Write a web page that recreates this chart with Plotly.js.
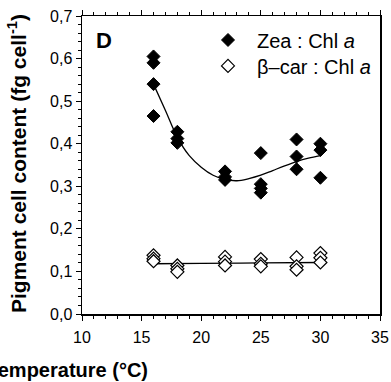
<!DOCTYPE html>
<html>
<head>
<meta charset="utf-8">
<script src="https://cdn.plot.ly/plotly-3.0.1.min.js"></script>
<style>html,body{margin:0;padding:0;background:#fff;}#chart{width:391px;height:382px;}</style>
</head>
<body>
<div id="chart"></div>
<script>
// Zea : Chl a measurements
var zeaX = [16,16,16,16,18,18,18,22,22,22,25,25,25,25,28,28,28,30,30,30];
var zeaY = [0.605,0.59,0.54,0.465,0.428,0.412,0.402,0.335,0.322,0.315,0.378,0.305,0.295,0.285,0.41,0.37,0.34,0.40,0.385,0.32];
// beta-car : Chl a measurements
var carX = [16,16,16,18,18,18,22,22,22,25,25,25,28,28,28,30,30,30];
var carY = [0.138,0.130,0.124,0.114,0.106,0.099,0.134,0.123,0.114,0.129,0.118,0.112,0.133,0.112,0.104,0.143,0.132,0.121];
// fitted curves
var zeaFitX = [16,17,18,19,20,21,22,23,24,25,26,27,28,29,30];
var zeaFitY = [0.54,0.478,0.415,0.372,0.345,0.326,0.316,0.313,0.318,0.326,0.337,0.348,0.358,0.366,0.372];
var carFitX = [16,20,25,30];
var carFitY = [0.118,0.119,0.120,0.121];
// labels
var seriesNames = ['Zea : Chl <i>a</i>', '\u03B2\u2013car : Chl <i>a</i>'];
var xTitle = 'Temperature (\u00B0C)';
var yTitle = 'Pigment cell content (fg cell<sup>-1</sup>)';
var panelLabel = 'D';

var FONT = 'Liberation Sans, Arial, sans-serif';

var traces = [
  {x: zeaFitX, y: zeaFitY, mode: 'lines', line: {color: '#000', width: 1.3, shape: 'spline'}, showlegend: false, hoverinfo: 'skip'},
  {x: carFitX, y: carFitY, mode: 'lines', line: {color: '#000', width: 1.3, shape: 'spline'}, showlegend: false, hoverinfo: 'skip'},
  {x: zeaX, y: zeaY, mode: 'markers', name: seriesNames[0], legend: 'legend',
   marker: {symbol: 'diamond', size: 10, color: '#000', line: {color: '#000', width: 1}}},
  {x: carX, y: carY, mode: 'markers', name: seriesNames[1], legend: 'legend2',
   marker: {symbol: 'diamond', size: 10, color: '#fff', line: {color: '#000', width: 1.2}}}
];

var legX = (199 - 82) / 298;
var layout = {
  width: 391, height: 382,
  margin: {l: 82, r: 11, t: 16, b: 68},
  paper_bgcolor: '#fff', plot_bgcolor: '#fff',
  separators: ', ',
  font: {family: FONT, color: '#000', size: 16},
  showlegend: true,
  legend: {x: legX, y: 0.985, xanchor: 'left', yanchor: 'top', itemwidth: 48, bgcolor: 'rgba(0,0,0,0)', font: {size: 20, family: FONT}, borderwidth: 0},
  legend2: {x: legX, y: 0.898, xanchor: 'left', yanchor: 'top', itemwidth: 48, bgcolor: 'rgba(0,0,0,0)', font: {size: 20, family: FONT}, borderwidth: 0},
  xaxis: {
    range: [10, 35], dtick: 5, tick0: 10, showgrid: false, zeroline: false,
    showline: true, linecolor: '#000', linewidth: 1.5, mirror: 'ticks',
    ticks: 'outside', ticklen: 5, tickwidth: 1, tickcolor: '#000', ticklabelstandoff: 3,
    tickfont: {size: 16, family: FONT},
    minor: {dtick: 1, ticks: 'outside', ticklen: 3, tickcolor: '#000', tickwidth: 1, showgrid: false}
  },
  yaxis: {
    range: [0, 0.7], dtick: 0.1, tick0: 0, tickformat: '.1f', showgrid: false, zeroline: false,
    showline: true, linecolor: '#000', linewidth: 1.5, mirror: true,
    ticks: 'outside', ticklen: 5, tickwidth: 1, tickcolor: '#000',
    tickfont: {size: 16, family: FONT},
    minor: {dtick: 0.02, ticks: 'outside', ticklen: 3, tickcolor: '#000', tickwidth: 1, showgrid: false}
  },
  annotations: [
    {text: '<b>' + panelLabel + '</b>', xref: 'paper', yref: 'paper', x: (103.5 - 82) / 298, y: (314 - 40.5) / 298,
     xanchor: 'center', yanchor: 'middle', showarrow: false, font: {size: 22, family: FONT}},
    {text: '<b>' + yTitle + '</b>', xref: 'paper', yref: 'paper', x: (17 - 82) / 298, y: (314 - 164) / 298, textangle: -90,
     xanchor: 'center', yanchor: 'middle', showarrow: false, font: {size: 21, family: FONT}},
    {text: '<b>' + xTitle + '</b>', xref: 'paper', yref: 'paper', x: (67 - 82) / 298, y: (314 - 370) / 298,
     xanchor: 'center', yanchor: 'middle', showarrow: false, font: {size: 20, family: FONT}}
  ]
};

Plotly.newPlot('chart', traces, layout, {displayModeBar: false, staticPlot: true});
</script>
</body>
</html>
